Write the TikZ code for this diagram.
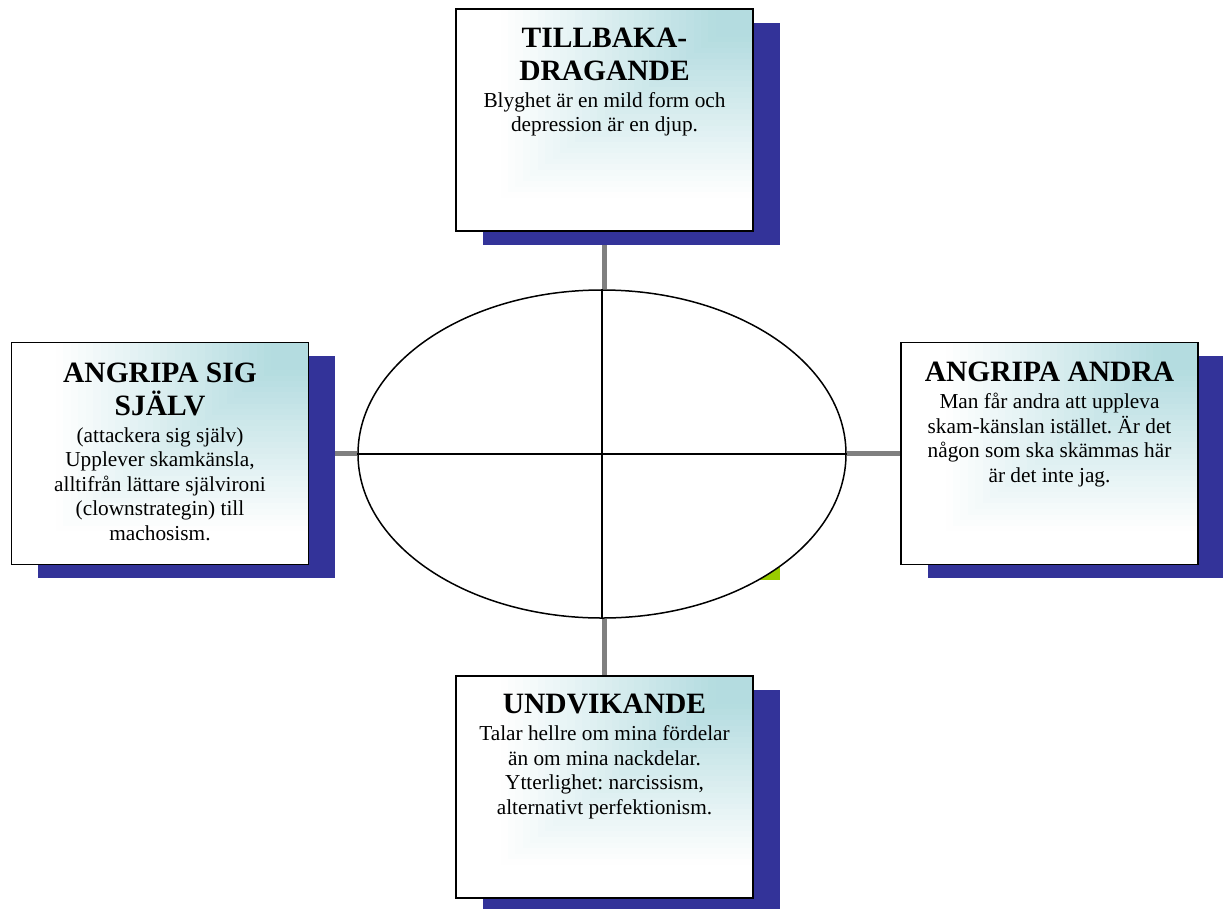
\documentclass[tikz,border=0pt]{standalone}
\usepackage{fontspec}
\setmainfont{Liberation Serif}
\frenchspacing
\usetikzlibrary{shapes.geometric,shadows,backgrounds,calc}
\definecolor{shadowblue}{RGB}{51,51,153}
\definecolor{boxteal}{RGB}{180,220,224}
\definecolor{conngray}{RGB}{128,128,128}
\definecolor{patchgreen}{RGB}{153,204,0}
\tikzset{
  cornerfade/.style={path picture={
    \foreach \i [evaluate=\i as \s using {1-\i/40},
                 evaluate=\i as \f using {max(0,min(100,(0.86-(1-\i/40))/0.72*100))}] in {0,...,39}{
      \fill[boxteal!\f!white] (path picture bounding box.north east) rectangle
        ($(path picture bounding box.north east)!\s!(path picture bounding box.south west)$);
    }}},
  card/.style={draw=black, line width=1.6pt, minimum width=297pt, minimum height=222pt,
    inner sep=0pt, fill=white, cornerfade,
    general shadow={fill=shadowblue, shadow xshift=26.5pt, shadow yshift=-13.5pt}},
  title/.style={font=\fontsize{29.5}{33}\selectfont\bfseries, align=center, inner sep=0pt, anchor=north},
  body/.style={font=\fontsize{21.3}{24.5}\selectfont, align=center, inner sep=0pt, anchor=north},
  conn/.style={draw=conngray, line width=5pt},
  cross/.style={draw=black, line width=1.5pt},
  oval/.style={draw=black, line width=1.5pt, fill=white, ellipse, minimum width=488pt,
    minimum height=328pt, inner sep=0pt},
}
\begin{document}
\begin{tikzpicture}[x=1pt,y=-1pt]
\useasboundingbox (0,0) rectangle (1223,908);

\node[oval] (ell) at (602,454) {};
\draw[cross] (ell.north) -- (ell.south);
\draw[cross] (ell.west) -- (ell.east);

% top
\node[card] (topbox) at (604.5,120) {};
\node[title] (toptitle) at (604.5,27.5) {TILLBAKA-\\DRAGANDE};
\node[body] (topbody) at ($(toptitle.south)+(0,11.5)$) {Blyghet är en mild form och\\depression är en djup.};

% left
\node[card] (leftbox) at (160,453.5) {};
\node[title] (lefttitle) at (160,362.5) {ANGRIPA SIG\\SJÄLV};
\node[body] (leftbody) at ($(lefttitle.south)+(0,11.5)$) {(attackera sig själv)\\Upplever skamkänsla,\\alltifrån lättare självironi\\(clownstrategin) till\\machosism.};

% right
\node[card] (rightbox) at (1049.5,453.5) {};
\node[title] (righttitle) at (1049.5,361.5) {ANGRIPA ANDRA};
\node[body] (rightbody) at ($(righttitle.south)+(0,11.5)$) {Man får andra att uppleva\\skam-känslan istället. Är det\\någon som ska skämmas här\\är det inte jag.};

% bottom
\node[card] (botbox) at (604.5,787) {};
\node[title] (bottitle) at (604.5,693.5) {UNDVIKANDE};
\node[body] (botbody) at ($(bottitle.south)+(0,11.5)$) {Talar hellre om mina fördelar\\än om mina nackdelar.\\Ytterlighet: narcissism,\\alternativt perfektionism.};

\begin{pgfonlayer}{background}
  \fill[patchgreen] (758,566) rectangle (780,580);
  \draw[conn] (topbox.south) -- (topbox.south |- ell.north);
  \draw[conn] (botbox.north) -- (botbox.north |- ell.south);
  \draw[conn] (leftbox.east) -- (leftbox.east -| ell.west);
  \draw[conn] (rightbox.west) -- (rightbox.west -| ell.east);
\end{pgfonlayer}
\end{tikzpicture}
\end{document}
